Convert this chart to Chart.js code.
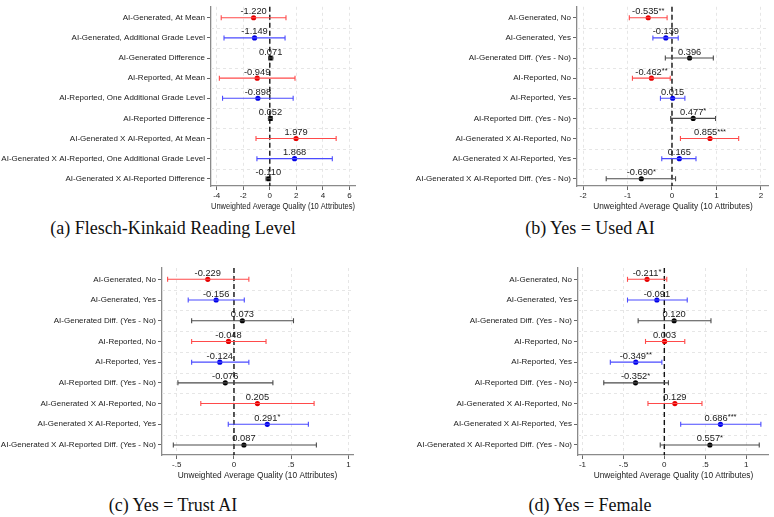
<!DOCTYPE html>
<html><head><meta charset="utf-8">
<script src="https://cdn.jsdelivr.net/npm/chart.js@4.4.1/dist/chart.umd.min.js"></script>
<style>
html,body{margin:0;padding:0;background:#fff;width:774px;height:517px;overflow:hidden}
body{position:relative}
canvas{position:absolute}
.cap{position:absolute;font-family:"Liberation Serif","DejaVu Serif",serif;font-size:18px;line-height:18px;white-space:nowrap;color:#111;transform:translateX(-50%)}
</style></head><body>
<canvas id="ca" width="387" height="212" style="left:0;top:0"></canvas>
<canvas id="cb" width="387" height="212" style="left:387px;top:0"></canvas>
<canvas id="cc" width="387" height="221" style="left:0;top:260px"></canvas>
<canvas id="cd" width="387" height="221" style="left:387px;top:260px"></canvas>
<div class="cap" style="left:173px;top:219px">(a) Flesch-Kinkaid Reading Level</div>
<div class="cap" style="left:590px;top:219px">(b) Yes = Used AI</div>
<div class="cap" style="left:173px;top:496px">(c) Yes = Trust AI</div>
<div class="cap" style="left:590px;top:496px">(d) Yes = Female</div>
<script>
// ---------- data ----------
const rowsA = ["AI-Generated, At Mean","AI-Generated, Additional Grade Level","AI-Generated Difference",
  "AI-Reported, At Mean","AI-Reported, One Additional Grade Level","AI-Reported Difference",
  "AI-Generated X AI-Reported, At Mean","AI-Generated X AI-Reported, One Additional Grade Level","AI-Generated X AI-Reported Difference"];
const rowsYN = ["AI-Generated, No","AI-Generated, Yes","AI-Generated Diff. (Yes - No)",
  "AI-Reported, No","AI-Reported, Yes","AI-Reported Diff. (Yes - No)",
  "AI-Generated X AI-Reported, No","AI-Generated X AI-Reported, Yes","AI-Generated X AI-Reported Diff. (Yes - No)"];

const estA = [-1.220,-1.149,0.071,-0.949,-0.898,0.052,1.979,1.868,-0.110];
const loA  = [-3.66,-3.45,-0.08,-3.80,-3.56,-0.10,-1.04,-0.97,-0.28];
const hiA  = [1.22,1.15,0.22,1.90,1.76,0.20,5.00,4.71,0.06];
const starsA = ["","","","","","","","",""];

const estB = [-0.535,-0.139,0.396,-0.462,0.015,0.477,0.855,0.165,-0.690];
const loB  = [-0.96,-0.43,-0.15,-0.89,-0.26,-0.03,0.19,-0.23,-1.48];
const hiB  = [-0.11,0.14,0.93,-0.04,0.29,0.98,1.50,0.54,0.08];
const starsB = ["**","","","**","","*","***","","*"];

const estC = [-0.229,-0.156,0.073,-0.048,-0.124,-0.076,0.205,0.291,0.087];
const loC  = [-0.58,-0.40,-0.37,-0.37,-0.37,-0.49,-0.29,-0.05,-0.53];
const hiC  = [0.13,0.09,0.52,0.28,0.13,0.34,0.70,0.65,0.72];
const starsC = ["","","","","","","","*",""];

const estD = [-0.211,-0.091,0.120,0.003,-0.349,-0.352,0.129,0.686,0.557];
const loD  = [-0.45,-0.45,-0.32,-0.23,-0.66,-0.74,-0.20,0.20,-0.05];
const hiD  = [0.03,0.28,0.57,0.25,-0.03,0.05,0.46,1.18,1.16];
const starsD = ["*","","","","**","*","","***","*"];

const ticksA = [-4,-2,0,2,4,6];        const tickLabelsA = ["-4","-2","0","2","4","6"];
const ticksB = [-2,-1,0,1,2];          const tickLabelsB = ["-2","-1","0","1","2"];
const ticksC = [-0.5,0,0.5,1];         const tickLabelsC = ["-.5","0",".5","1"];
const ticksD = [-1,-0.5,0,0.5,1];      const tickLabelsD = ["-1","-.5","0",".5","1"];
const axisTitle = "Unweighted Average Quality (10 Attributes)";

// ---------- styles ----------
const rowKind = ["r","b","k","r","b","k","r","b","k"];
const lineCol = {r:"#ff4a4a", b:"#4a4aff", k:"#4a4a4a"};
const dotCol  = {r:"#e60000", b:"#0000e6", k:"#000000"};
const FONT = "'Liberation Sans', Arial, sans-serif";

const overlay = {
  id: "overlay",
  beforeDatasetsDraw(chart) {
    const {ctx, chartArea: a, scales: {x, y}} = chart;
    ctx.save();
    ctx.strokeStyle = "#e6e6e6"; ctx.lineWidth = 1; ctx.setLineDash([3,3]);
    for (let k = 1; k < 9; k++) {
      const py = Math.round(y.getPixelForValue(k + 0.5)) + 0.5;
      ctx.beginPath(); ctx.moveTo(a.left, py); ctx.lineTo(a.right, py); ctx.stroke();
    }
    const px = x.getPixelForValue(0);
    ctx.strokeStyle = "#111"; ctx.lineWidth = 1.4; ctx.setLineDash([5,3]);
    ctx.beginPath(); ctx.moveTo(px, a.top); ctx.lineTo(px, a.bottom); ctx.stroke();
    ctx.restore();
  },
  afterDatasetsDraw(chart, args, opts) {
    const {ctx, scales: {x, y}} = chart;
    ctx.save();
    ctx.fillStyle = "#1a1a1a";
    ctx.textBaseline = "alphabetic";
    ctx.textAlign = "left";
    opts.est.forEach((v, i) => {
      const num = v.toFixed(3);
      const st = opts.stars[i];
      ctx.font = "9.3px " + FONT;
      const w1 = ctx.measureText(num).width;
      ctx.font = "7.5px " + FONT;
      const w2 = st ? ctx.measureText(st).width : 0;
      const px = x.getPixelForValue(v), py = y.getPixelForValue(i + 1);
      const x0 = px - (w1 + w2) / 2;
      ctx.font = "9.3px " + FONT;
      ctx.fillText(num, x0, py - 3.5);
      if (st) { ctx.font = "7.5px " + FONT; ctx.fillText(st, x0 + w1, py - 5); }
    });
    ctx.restore();
  }
};

function makePanel(id, rows, est, lo, hi, stars, ticks, tickLabels, xmin, xmax, ymin, ymax, yw, pad) {
  const datasets = rows.map((r, i) => ({
    data: [{x: lo[i], y: i + 1}, {x: hi[i], y: i + 1}],
    showLine: true,
    borderColor: lineCol[rowKind[i]],
    borderWidth: 1.1,
    pointStyle: "line",
    rotation: 90,
    pointRadius: 2.5,
    pointBorderWidth: 1.1,
    pointBorderColor: lineCol[rowKind[i]],
    pointBackgroundColor: lineCol[rowKind[i]]
  }));
  datasets.push({
    data: est.map((v, i) => ({x: v, y: i + 1})),
    pointStyle: "circle",
    pointRadius: 2.6,
    pointBorderWidth: 0,
    backgroundColor: est.map((v, i) => dotCol[rowKind[i]]),
    pointBackgroundColor: est.map((v, i) => dotCol[rowKind[i]])
  });
  new Chart(document.getElementById(id), {
    type: "scatter",
    data: {datasets},
    plugins: [overlay],
    options: {
      responsive: false, animation: false, devicePixelRatio: 1,
      layout: {padding: pad},
      plugins: {legend: {display: false}, tooltip: {enabled: false}, overlay: {est, stars}},
      scales: {
        x: {
          type: "linear", min: xmin, max: xmax,
          afterBuildTicks: s => { s.ticks = ticks.map(v => ({value: v})); },
          afterFit: s => { s.height = 26; },
          ticks: {callback: (v) => tickLabels[ticks.indexOf(v)], font: {family: FONT, size: 8}, color: "#222", padding: 1, maxRotation: 0, autoSkip: false},
          grid: {color: "#e6e6e6", tickColor: "#666", tickLength: 4, tickBorderDash: []},
          border: {color: "#8a8a8a", width: 1.3, dash: [3,3]},
          title: {display: true, text: axisTitle, font: {family: FONT, size: 8.3}, color: "#222", padding: 0}
        },
        y: {
          type: "linear", min: ymin, max: ymax, reverse: true,
          afterBuildTicks: s => { s.ticks = rows.map((r, i) => ({value: i + 1})); },
          afterFit: s => { s.width = yw; },
          ticks: {callback: (v) => rows[v - 1], font: {family: FONT, size: 8}, color: "#1a1a1a", padding: 2, autoSkip: false},
          grid: {drawOnChartArea: false, tickColor: "#666", tickLength: 4},
          border: {color: "#8a8a8a", width: 1.3}
        }
      }
    }
  });
}

makePanel("ca", rowsA, estA, loA, hiA, starsA, ticksA, tickLabelsA, -4.43, 6.42, 0.455, 9.36, 211, {top: 1, right: 32, left: 0, bottom: 0});
makePanel("cb", rowsYN, estB, loB, hiB, starsB, ticksB, tickLabelsB, -2.137, 2.18, 0.455, 9.36, 190, {top: 1, right: 1, left: 0, bottom: 0});
makePanel("cc", rowsYN, estC, loC, hiC, starsC, ticksC, tickLabelsC, -0.629, 1.04, 0.454, 9.483, 162, {top: 8, right: 34, left: 0, bottom: 0});
makePanel("cd", rowsYN, estD, loD, hiD, starsD, ticksD, tickLabelsD, -1.055, 1.278, 0.454, 9.483, 191, {top: 8, right: 1, left: 0, bottom: 0});
</script>
</body></html>
